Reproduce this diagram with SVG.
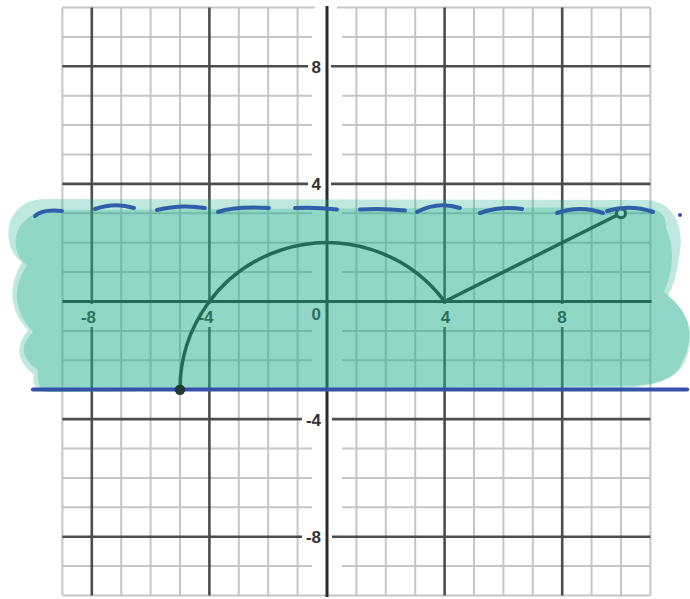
<svg xmlns="http://www.w3.org/2000/svg" width="690" height="599" viewBox="0 0 690 599">
<style>
.minor{stroke:#c6c6c6;stroke-width:2;fill:none}
.major{stroke:#4d4d4d;stroke-width:2.6;fill:none}
.axis{stroke:#2a2a2a;stroke-width:3;fill:none}
.lbl{font-family:"Liberation Sans",Arial,sans-serif;font-weight:bold;font-size:17px;fill:#333}
.teal{fill:#23af8f;fill-opacity:0.29;stroke:none}
.curve{stroke:#26282a;stroke-width:3.5;fill:none;stroke-linecap:round}
.dash{stroke:#2f5fa8;stroke-width:4;fill:none;stroke-linecap:round}
</style>
<rect width="690" height="599" fill="#ffffff"/>
<g id="grid">
<g class="minor">
<path d="M62.4,7.5V595.5M121.2,7.5V595.5M150.6,7.5V595.5M180,7.5V595.5M238.8,7.5V595.5M268.2,7.5V595.5M297.6,7.5V595.5M356.4,7.5V595.5M385.8,7.5V595.5M415.2,7.5V595.5M474,7.5V595.5M503.4,7.5V595.5M532.8,7.5V595.5M591.6,7.5V595.5M621,7.5V595.5M650.4,7.5V595.5"/>
<path d="M62.4,7.5H315M337,7.5H650.4M62.4,36.9H312M342,36.9H650.4M62.4,95.7H312M342,95.7H650.4M62.4,125.1H312M342,125.1H650.4M62.4,154.5H312M342,154.5H650.4M62.4,213.3H312M342,213.3H650.4M62.4,242.7H312M342,242.7H650.4M62.4,272.1H312M342,272.1H650.4M62.4,330.9H312M342,330.9H650.4M62.4,360.3H312M342,360.3H650.4M62.4,389.7H312M342,389.7H650.4M62.4,448.5H312M342,448.5H650.4M62.4,477.9H312M342,477.9H650.4M62.4,507.3H312M342,507.3H650.4M62.4,566.1H312M342,566.1H650.4M62.4,595.5H650.4"/>
</g>
<g class="major">
<path d="M91.8,7.5V304M91.8,327V595.5M209.4,7.5V304M209.4,327V595.5M444.6,7.5V304M444.6,327V595.5M562.2,7.5V304M562.2,327V595.5"/>
<path d="M62.4,66.3H308M331,66.3H650.4M62.4,183.9H308M331,183.9H650.4M62.4,419.1H302M332,419.1H650.4M62.4,536.7H302M332,536.7H650.4"/>
</g>
<path class="axis" d="M327,6V597M62.4,301.5H651.5"/>
</g>
<g id="labels">
<text class="lbl" x="321" y="72.5" text-anchor="end">8</text>
<text class="lbl" x="321" y="189.5" text-anchor="end">4</text>
<text class="lbl" x="321" y="425.5" text-anchor="end">-4</text>
<text class="lbl" x="321" y="543" text-anchor="end">-8</text>
<text class="lbl" x="88.5" y="323" text-anchor="middle">-8</text>
<text class="lbl" x="206" y="323" text-anchor="middle">-4</text>
<text class="lbl" x="321" y="320" text-anchor="end">0</text>
<text class="lbl" x="445.5" y="322.5" text-anchor="middle">4</text>
<text class="lbl" x="562" y="323" text-anchor="middle">8</text>
</g>
<g id="graph">
<path class="curve" d="M180,389.7A147,147 0 0 1 444.6,301.5L621,213.3"/>
<circle cx="621" cy="213.3" r="4.5" fill="#ffffff" stroke="#26282a" stroke-width="3"/>
</g>
<g id="shading">
<path class="teal" d="M45,199L645,200C672,200 684,225 680,250Q677,280 668,296Q702,322 684,364Q670,388 615,388L50,392Q30,392 34,375Q8,355 28,330Q0,300 22,262C2,250 0,200 45,199Z"/>
<path class="teal" d="M50,210L640,207Q667,207 666,228Q679,258 664,292Q703,322 682,362Q676,386 620,386L50,392Q36,392 38,370Q12,352 33,332Q4,300 27,265C10,255 8,215 50,210Z"/>
</g>
<g id="connectors">
<g id="dashed-y3">
<path class="dash" d="M35,216Q42,209 62,211"/>
<path class="dash" d="M95,209Q115,202 134,208"/>
<path class="dash" d="M157,210Q180,204 205,208"/>
<path class="dash" d="M218,212Q235,206 269,208"/>
<path class="dash" d="M295,208Q316,207 337,209.5"/>
<path class="dash" d="M360,209.5Q382,208 405,210.5"/>
<path class="dash" d="M417,212Q438,201 460,208"/>
<path class="dash" d="M480,213Q500,206 522,209"/>
<path class="dash" d="M557,213Q580,205 603,213"/>
<path class="dash" d="M607,211Q630,204 653,212"/>
<circle cx="680" cy="215" r="2" fill="#3a4ab0"/>
</g>
<path id="solid-ym3" d="M33,389.5H687" stroke="#3652a8" stroke-width="4.2" stroke-linecap="round" fill="none"/>
</g>
<g id="closed-point">
<circle cx="180" cy="389.7" r="5.2" fill="#1d3a33"/>
</g>
</svg>
